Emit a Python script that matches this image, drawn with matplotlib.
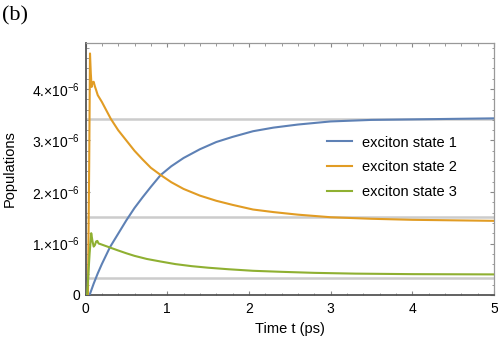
import numpy as np
import matplotlib
matplotlib.use('Agg')
import matplotlib.pyplot as plt
from matplotlib.ticker import FixedLocator, FixedFormatter, MultipleLocator

plt.rcParams['font.family'] = ['Liberation Sans', 'DejaVu Sans']
plt.rcParams['mathtext.fontset'] = 'custom'
plt.rcParams['mathtext.rm'] = 'Liberation Sans'

# populations in units of 1e-6
t_state1 = [0.05, 0.10, 0.15, 0.20, 0.30, 0.40, 0.50, 0.60, 0.70, 0.80, 0.92,
            1.05, 1.20, 1.40, 1.60, 1.80, 2.05, 2.30, 2.60, 3.00, 3.50, 4.00,
            4.50, 5.00]
pop_state1 = [0.0, 0.22, 0.42, 0.60, 0.93, 1.19, 1.45, 1.69, 1.90, 2.10, 2.33,
              2.50, 2.66, 2.83, 2.97, 3.07, 3.18, 3.25, 3.31, 3.37, 3.40, 3.41,
              3.42, 3.43]

t_state2 = [0.0, 0.03, 0.045, 0.055, 0.065, 0.075, 0.085, 0.10, 0.115, 0.13,
            0.15, 0.20, 0.31, 0.40, 0.50, 0.60, 0.70, 0.80, 0.92, 1.05, 1.20,
            1.40, 1.60, 1.80, 2.05, 2.30, 2.60, 3.00, 3.50, 4.00, 4.50, 5.00]
pop_state2 = [0.0, 0.0, 2.5, 4.69, 4.30, 4.04, 4.12, 4.14, 4.05, 3.98,
              3.88, 3.75, 3.42, 3.20, 3.00, 2.80, 2.63, 2.47, 2.33, 2.19, 2.06,
              1.93, 1.83, 1.75, 1.66, 1.61, 1.56, 1.51, 1.48, 1.46, 1.45, 1.44]

t_state3 = [0.0, 0.02, 0.05, 0.07, 0.085, 0.10, 0.115, 0.13, 0.145, 0.16,
            0.18, 0.25, 0.39, 0.50, 0.60, 0.75, 0.92, 1.10, 1.30, 1.50, 1.75,
            2.05, 2.40, 2.80, 3.30, 4.00, 5.00]
pop_state3 = [0.0, 0.0, 0.8, 1.20, 1.05, 0.94, 0.97, 1.04, 1.05, 1.00,
              0.99, 0.95, 0.87, 0.81, 0.76, 0.70, 0.65, 0.60, 0.56, 0.53, 0.50,
              0.47, 0.45, 0.43, 0.415, 0.405, 0.40]

steady_levels = [3.42, 1.52, 0.335]

labels = ['exciton state 1', 'exciton state 2', 'exciton state 3']
colors = ['#5E81B5', '#E19C24', '#8FB032']

y_ticks = [0, 1, 2, 3, 4]
y_ticklabels = ['0'] + ['%d.\u00d710$^{\\mathregular{-6}}$' % k for k in y_ticks[1:]]

fig = plt.figure(figsize=(4.98, 3.44), dpi=100)
ax = fig.add_axes([85.5 / 498, 49 / 344, (494 - 85.5) / 498, 252 / 344])

for lev in steady_levels:
    ax.axhline(lev, color='#cccccc', lw=1.8, zorder=1)

ax.plot(t_state1, pop_state1, color=colors[0], lw=1.5, label=labels[0], zorder=3)
ax.plot(t_state2, pop_state2, color=colors[1], lw=1.5, label=labels[1], zorder=3)
ax.plot(t_state3, pop_state3, color=colors[2], lw=1.5, label=labels[2], zorder=3)

ax.set_xlim(0, 5)
ax.set_ylim(0, 252 / 51.5)
ax.xaxis.set_major_locator(MultipleLocator(1))
ax.xaxis.set_minor_locator(MultipleLocator(0.2))
ax.yaxis.set_major_locator(FixedLocator(y_ticks))
ax.yaxis.set_major_formatter(FixedFormatter(y_ticklabels))
ax.yaxis.set_minor_locator(MultipleLocator(0.2))

ax.tick_params(which='both', direction='in', top=True, right=True,
               color='#888888', labelsize=10)
ax.tick_params(which='major', length=3.2, width=0.8)
ax.tick_params(which='minor', length=1.8, width=0.6)
ax.tick_params(axis='x', pad=5)
ax.tick_params(axis='y', pad=4)
for side in ['top', 'right']:
    ax.spines[side].set_color('#999999')
    ax.spines[side].set_linewidth(0.9)
for side in ['left', 'bottom']:
    ax.spines[side].set_color('#555555')
    ax.spines[side].set_linewidth(1.3)

ax.set_xlabel('Time t (ps)', fontsize=10.5, labelpad=4)
fig.text(9.5 / 498, 1 - 169 / 344, 'Populations', rotation=90,
         ha='center', va='center', fontsize=10.5)

ax.legend(loc='center left', bbox_to_anchor=(0.59, 0.506), frameon=False,
          borderpad=0, borderaxespad=0, handlelength=1.75, handletextpad=0.65,
          labelspacing=0.75, fontsize=10.5)

fig.text(2 / 498, 1 - 20 / 344, '(b)', fontsize=16, family='Liberation Serif',
         ha='left', va='baseline')

plt.savefig('out.png', dpi=100)
plt.close()
